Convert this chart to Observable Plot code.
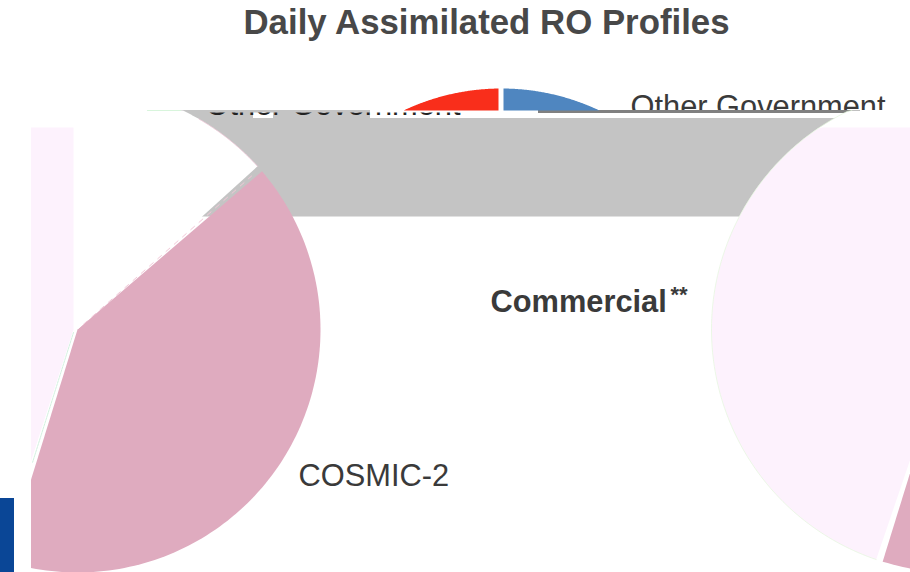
<!DOCTYPE html>
<html><head><meta charset="utf-8">
<script src="https://cdn.jsdelivr.net/npm/d3@7"></script>
<script src="https://cdn.jsdelivr.net/npm/@observablehq/plot@0.6"></script>
<style>html,body{margin:0;padding:0;background:#fff;overflow:hidden}svg{display:block}</style>
</head><body><div id="chart"></div>
<script>
const sliceNames = ["Other Government","COSMIC-2","Commercial"];
const sliceDegrees = [48.6, 149.4, 162];
const W = 910, H = 572;
const font = "Liberation Sans, Arial, sans-serif";

const starts = d3.cumsum([0, ...sliceDegrees]);
const polar = (cx, cy, r, a) => {
  const t = a * Math.PI / 180;
  return {x: cx + r * Math.sin(t), y: cy - r * Math.cos(t)};
};
const clampPt = (p, opt) => ({
  x: Math.min(Math.max(p.x, opt.minX ?? -1e9), opt.maxX ?? 1e9),
  y: Math.min(Math.max(p.y, opt.minY ?? -1e9), opt.maxY ?? 1e9)
});
function arc(cx, cy, r, a0, a1, opt = {}) {
  return d3.range(0, 121).map(k => clampPt(polar(cx, cy, r, a0 + (a1 - a0) * k / 120), opt));
}
function wedge(cx, cy, r, a0, a1, opt = {}) {
  const apex = clampPt({x: cx, y: cy}, opt);
  return [apex, ...arc(cx, cy, r, a0, a1, opt), apex];
}
const slice = (pie, i, opt) => wedge(...pie, starts[i] + 0.8, starts[i + 1] - 0.8, opt);
const poly = (pts, fill) =>
  Plot.line(pts, {x: "x", y: "y", fill, stroke: "none", curve: "linear", clip: true});
const edge = (pts, stroke, strokeWidth, strokeDasharray) =>
  Plot.line(pts, {x: "x", y: "y", stroke, strokeWidth, strokeDasharray, curve: "linear", clip: true});
const box = (x1, x2, y1, y2, fill) =>
  Plot.rect([{x1, x2, y1, y2}], {x1: "x1", x2: "x2", y1: "y1", y2: "y2", fill, clip: true});
const label = (x, y, text, o = {}) =>
  Plot.text([text], {x: () => x, y: () => y, text: d => d, textAnchor: "start",
    fontFamily: font, fill: "#3a3a3a", fontSize: 30.8, ...o});

const pink = "#dfabbf", pale = "#fdf2fd", blue = "#4f86c0", red = "#f92e1b", grey = "#c4c4c4";
const pie1 = [501, 317, 229], pie2 = [77, 329, 243], pie3 = [954, 329, 243];

const plot = Plot.plot({
  width: W, height: H, margin: 0,
  x: {domain: [0, W], range: [0, W], axis: null},
  y: {domain: [0, H], range: [0, H], axis: null},
  marks: [
    // clipped labels of the top pie
    label(630, 107, sliceNames[0]),
    box(0, W, 110, H, "#fff"),
    // the band that shows only the feet of another label
    box(180, 370, 110, 118, grey),
    box(253, 273, 111, 118, "#fff"),
    box(538, 860, 110, 113, "#808080"),
    label(205, 104.5, sliceNames[0], {fill: "#222"}),
    box(180, 370, 110, 112.5, grey),
    box(370, 520, 110, 112.5, "#fff"),
    box(150, 520, 60, 110, "#fff"),
    // top pie, seen only above the band
    poly(wedge(...pie1, 0, 30, {maxY: 110, minX: 503}), blue),
    poly(wedge(...pie1, 330, 360, {maxY: 110, maxX: 498}), red),
    box(150, 880, 118, 216.5, grey),
    // left copy
    poly(slice(pie2, 1), pink),
    poly(slice(pie2, 0, {minY: 110}), "#fff"),
    edge(arc(...pie2, 30, 47.8), "#f0c4d6", 0.8),
    edge([polar(77, 329, 8, 48.6), polar(77, 329, 232, 48.6)], "#f2c8d8", 1, "5 6"),
    poly(slice(pie2, 2, {maxX: 73, minY: 127}), pale),
    edge([{x: 147, y: 110}, {x: 180, y: 110}], "#d8f5dc", 1.2),
    edge([polar(73, 332, 0, 197.5), polar(73, 332, 136, 197.5)], "#c8ecd8", 0.8, "2 1"),
    // right copy
    poly(slice(pie3, 1), pink),
    poly(slice(pie3, 2, {minY: 110}), "#fff"),
    poly(slice(pie3, 2, {minY: 127}), pale),
    edge(arc(...pie3, 198.8, 335, {minY: 110}), "#e4f6dd", 0.7),
    // left strip and block
    box(0, 31, 100, H, "#fff"),
    box(0, 14, 498, H, "#0a4696"),
    label(298, 476, sliceNames[1]),
    label(490, 302, sliceNames[2], {fontWeight: "bold"}),
    label(670, 294, "**", {fontSize: 22, fontWeight: "bold"}),
    label(486, 22, "Daily Assimilated RO Profiles", {fontSize: 34.8, fontWeight: "bold", fill: "#484848", textAnchor: "middle"})
  ]
});
document.getElementById("chart").append(plot);
</script></body></html>
